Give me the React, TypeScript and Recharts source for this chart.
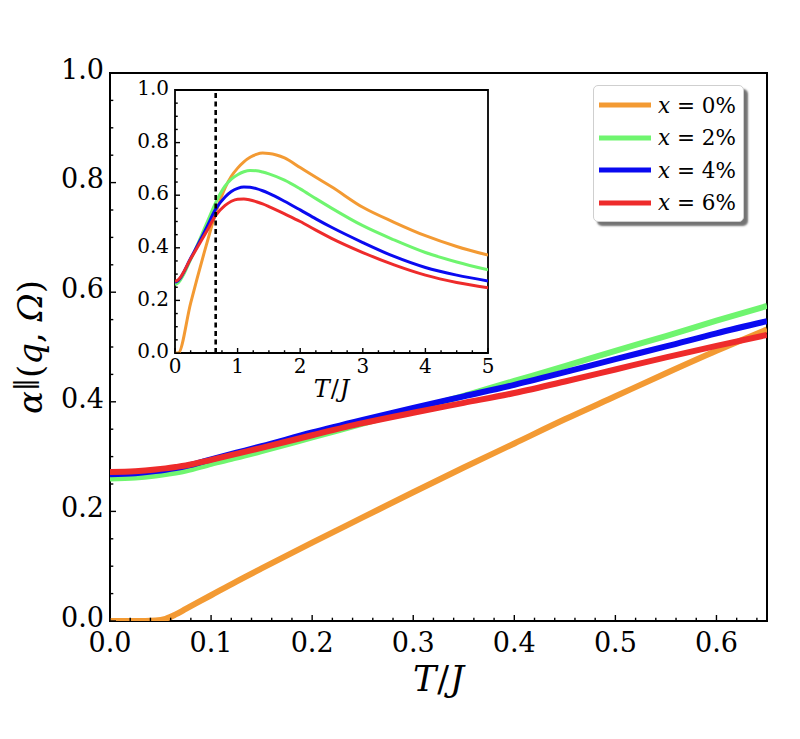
import React from 'react';
import { LineChart, Line, XAxis, YAxis, Label, Legend, ReferenceArea, ReferenceLine } from 'recharts';

const SERIF = 'DejaVu Serif, serif';

// doping levels and their colours
const concentrations = ['0%', '2%', '4%', '6%'];
const seriesKeys = ['x0', 'x2', 'x4', 'x6'];
const seriesColors = ['#F39A33', '#6FF56F', '#0A0AF0', '#EE2B2B'];

// main panel, T/J from 0 to 0.65
const mainT = [0, 0.025, 0.045, 0.055, 0.065, 0.075, 0.1, 0.125, 0.15, 0.2, 0.25, 0.3, 0.35, 0.4, 0.45, 0.5, 0.55, 0.6, 0.65];
const mainX0 = [0, 0, 0.001, 0.004, 0.012, 0.022, 0.047, 0.072, 0.096, 0.143, 0.189, 0.235, 0.28, 0.324, 0.368, 0.41, 0.452, 0.493, 0.532];
const mainX2 = [0.26, 0.2617, 0.2655, 0.268, 0.271, 0.2745, 0.287, 0.298, 0.31, 0.335, 0.36, 0.385, 0.411, 0.438, 0.465, 0.493, 0.52, 0.548, 0.575];
const mainX4 = [0.268, 0.2697, 0.2735, 0.276, 0.279, 0.2825, 0.295, 0.307, 0.319, 0.344, 0.367, 0.389, 0.41, 0.431, 0.454, 0.478, 0.501, 0.525, 0.547];
const mainX6 = [0.272, 0.2734, 0.2764, 0.2785, 0.281, 0.2838, 0.294, 0.305, 0.316, 0.339, 0.361, 0.38, 0.398, 0.416, 0.437, 0.459, 0.481, 0.502, 0.522];

// inset, T/J from 0 to 5
const insetT = [0, 0.05, 0.25, 0.5, 0.65, 0.8, 0.9, 1.0, 1.1, 1.2, 1.3, 1.4, 1.5, 1.75, 2.0, 2.25, 2.5, 3.0, 3.5, 4.0, 4.5, 5.0];
const insetX0 = [0, 0, 0.19, 0.41, 0.532, 0.628, 0.672, 0.703, 0.727, 0.744, 0.755, 0.76, 0.759, 0.742, 0.705, 0.668, 0.632, 0.554, 0.497, 0.446, 0.405, 0.372];
const insetX2 = [0.26, 0.267, 0.355, 0.49, 0.572, 0.635, 0.661, 0.678, 0.689, 0.694, 0.693, 0.688, 0.681, 0.657, 0.624, 0.587, 0.551, 0.484, 0.43, 0.382, 0.346, 0.316];
const insetX4 = [0.268, 0.275, 0.36, 0.475, 0.547, 0.593, 0.614, 0.626, 0.631, 0.63, 0.625, 0.617, 0.607, 0.577, 0.544, 0.51, 0.478, 0.42, 0.367, 0.325, 0.296, 0.274];
const insetX6 = [0.272, 0.278, 0.358, 0.46, 0.523, 0.561, 0.577, 0.585, 0.586, 0.582, 0.575, 0.567, 0.557, 0.529, 0.5, 0.467, 0.436, 0.382, 0.335, 0.296, 0.268, 0.248];

const dashedT = 0.65;

// tick labels
const mainXMajor = [0, 0.1, 0.2, 0.3, 0.4, 0.5, 0.6];
const yMajor = [0, 0.2, 0.4, 0.6, 0.8, 1.0];
const insetXMajor = [0, 1, 2, 3, 4, 5];

const minorTicks = (end: number, step: number) =>
  Array.from({ length: Math.floor(end / step + 1e-6) + 1 }, (_, i) => +(i * step).toFixed(4));

const mainXTicks = minorTicks(0.65, 0.02);
const mainYTicks = minorTicks(1, 0.05);
const insetXTicks = minorTicks(5, 0.25);
const insetYTicks = minorTicks(1, 0.05);

const buildRows = (ts: number[], cols: number[][]) =>
  ts.map((t, i) => {
    const row: Record<string, number> = { t };
    seriesKeys.forEach((k, j) => (row[k] = cols[j][i]));
    return row;
  });

const mainData = buildRows(mainT, [mainX0, mainX2, mainX4, mainX6]);
const insetData = buildRows(insetT, [insetX0, insetX2, insetX4, insetX6]);

const isMajor = (majors: number[], v: number) => majors.some((m) => Math.abs(m - v) < 1e-6);

type TickOpts = { majors: number[]; len: number; fs: number; gap: number; lift?: number; fmt: (v: number) => string };

const makeXTick = (o: TickOpts) => (props: any) => {
  const { x, y, payload } = props;
  const major = isMajor(o.majors, payload.value);
  return (
    <g>
      <line x1={x} x2={x} y1={y} y2={y - (major ? o.len : o.len * 0.55)} stroke="#000" strokeWidth={1.4} />
      {major && (
        <text x={x} y={y + o.gap} textAnchor="middle" fontSize={o.fs} style={{ fontFamily: SERIF }} fill="#000">
          {o.fmt(payload.value)}
        </text>
      )}
    </g>
  );
};

const makeYTick = (o: TickOpts) => (props: any) => {
  const { x, y, payload } = props;
  const major = isMajor(o.majors, payload.value);
  return (
    <g>
      <line x1={x} x2={x + (major ? o.len : o.len * 0.55)} y1={y} y2={y} stroke="#000" strokeWidth={1.4} />
      {major && (
        <text x={x - o.gap} y={y - (o.lift || 0)} dy="0.36em" textAnchor="end" fontSize={o.fs} style={{ fontFamily: SERIF }} fill="#000">
          {o.fmt(payload.value)}
        </text>
      )}
    </g>
  );
};

const fmt1 = (v: number) => v.toFixed(1);
const fmt0 = (v: number) => String(v);

const mainXTick = makeXTick({ majors: mainXMajor, len: 6, fs: 27, gap: 31, fmt: fmt1 });
const mainYTick = makeYTick({ majors: yMajor, len: 6, fs: 27, gap: 6, lift: 4, fmt: fmt1 });
const insetXTick = makeXTick({ majors: insetXMajor, len: 5, fs: 20, gap: 19.5, fmt: fmt0 });
const insetYTick = makeYTick({ majors: yMajor, len: 5, fs: 20, gap: 6, lift: 2, fmt: fmt1 });

const TJ = ({ x, y, fs }: { x: number; y: number; fs: number }) => (
  <text x={x} y={y} textAnchor="middle" fontSize={fs} style={{ fontFamily: SERIF }} fill="#000">
    <tspan fontStyle="italic">T</tspan>
    <tspan dx={1}>/</tspan>
    <tspan fontStyle="italic" dx={1}>J</tspan>
  </text>
);

const MainXLabel = (props: any) => {
  const vb = props.viewBox;
  return <TJ x={vb.x + vb.width / 2} y={vb.y + 70} fs={35} />;
};

const InsetXLabel = (props: any) => {
  const vb = props.viewBox;
  return <TJ x={vb.x + vb.width / 2} y={vb.y + 44} fs={24} />;
};

const MainYLabel = (props: any) => {
  const vb = props.viewBox;
  const cx = vb.x + 2;
  const cy = vb.y + vb.height / 2;
  return (
    <text x={cx} y={cy} transform={`rotate(-90, ${cx}, ${cy})`} textAnchor="middle" fontSize={34} style={{ fontFamily: SERIF }} fill="#000">
      <tspan fontStyle="italic">α</tspan>
      <tspan fontSize={26} dy={-9}>‖</tspan>
      <tspan dy={9}>(</tspan>
      <tspan fontStyle="italic">q</tspan>
      <tspan>, </tspan>
      <tspan fontStyle="italic">Ω</tspan>
      <tspan>)</tspan>
    </text>
  );
};

const LegendBox = (props: any) => {
  const { payload = [] } = props;
  return (
    <div
      style={{
        boxSizing: 'border-box',
        width: 151,
        height: 137,
        background: '#fff',
        border: '1px solid #cfcfcf',
        borderRadius: 5,
        boxShadow: '4px 4px 2px rgba(0,0,0,0.55)',
        paddingTop: 3,
        fontFamily: SERIF,
      }}
    >
      {payload.map((entry: any) => (
        <div key={entry.value} style={{ display: 'flex', alignItems: 'center', height: 32.5 }}>
          <svg width={58} height={8} style={{ flex: 'none' }}>
            <line x1={5} x2={57} y1={4} y2={4} stroke={entry.color} strokeWidth={5} />
          </svg>
          <span style={{ fontSize: 21.5, marginLeft: 6, whiteSpace: 'nowrap', color: '#000' }}>
            <i>x</i> = {entry.value}
          </span>
        </div>
      ))}
    </div>
  );
};

export default function App() {
  return (
    <div style={{ position: 'relative', width: 784, height: 720 }}>
      <LineChart width={784} height={720} data={mainData} margin={{ top: 65, right: 25, bottom: 47, left: 32 }}>
        <XAxis
          type="number"
          dataKey="t"
          domain={[0, 0.65]}
          ticks={mainXTicks}
          interval={0}
          tickSize={0}
          tickMargin={0}
          tickLine={false}
          axisLine={false}
          height={60}
          tick={mainXTick}
          allowDataOverflow
        >
          <Label content={MainXLabel} />
        </XAxis>
        <YAxis
          type="number"
          domain={[0, 1]}
          ticks={mainYTicks}
          interval={0}
          tickSize={0}
          tickMargin={0}
          tickLine={false}
          axisLine={false}
          width={70}
          tick={mainYTick}
          allowDataOverflow
        >
          <Label content={MainYLabel} />
        </YAxis>
        {seriesKeys.map((k, i) => (
          <Line
            key={k}
            type="monotone"
            dataKey={k}
            name={concentrations[i]}
            stroke={seriesColors[i]}
            strokeWidth={6}
            dot={false}
            activeDot={false}
            isAnimationActive={false}
          />
        ))}
        <ReferenceArea x1={0} x2={0.65} y1={0} y2={1} fill="none" stroke="#000" strokeWidth={2} ifOverflow="visible" />
        <Legend
          layout="vertical"
          align="center"
          verticalAlign="middle"
          content={LegendBox}
          wrapperStyle={{ position: 'absolute', left: 585, top: 77, width: 151, height: 137 }}
        />
      </LineChart>

      <div style={{ position: 'absolute', left: 110, top: 60 }}>
        <LineChart width={390} height={350} data={insetData} margin={{ top: 22, right: 20, bottom: 35, left: 7 }}>
          <XAxis
            type="number"
            dataKey="t"
            domain={[0, 5]}
            ticks={insetXTicks}
            interval={0}
            tickSize={0}
            tickMargin={0}
            tickLine={false}
            axisLine={false}
            height={30}
            tick={insetXTick}
            allowDataOverflow
          >
            <Label content={InsetXLabel} />
          </XAxis>
          <YAxis
            type="number"
            domain={[0, 1]}
            ticks={insetYTicks}
            interval={0}
            tickSize={0}
            tickMargin={0}
            tickLine={false}
            axisLine={false}
            width={50}
            tick={insetYTick}
            allowDataOverflow
          />
          {seriesKeys.map((k, i) => (
            <Line
              key={k}
              type="monotone"
              dataKey={k}
              stroke={seriesColors[i]}
              strokeWidth={3}
              dot={false}
              activeDot={false}
              isAnimationActive={false}
            />
          ))}
          <ReferenceLine x={dashedT} stroke="#000" strokeWidth={2.6} strokeDasharray="5 3.5" />
          <ReferenceArea x1={0} x2={5} y1={0} y2={1} fill="none" stroke="#000" strokeWidth={1.8} ifOverflow="visible" />
        </LineChart>
      </div>
    </div>
  );
}
